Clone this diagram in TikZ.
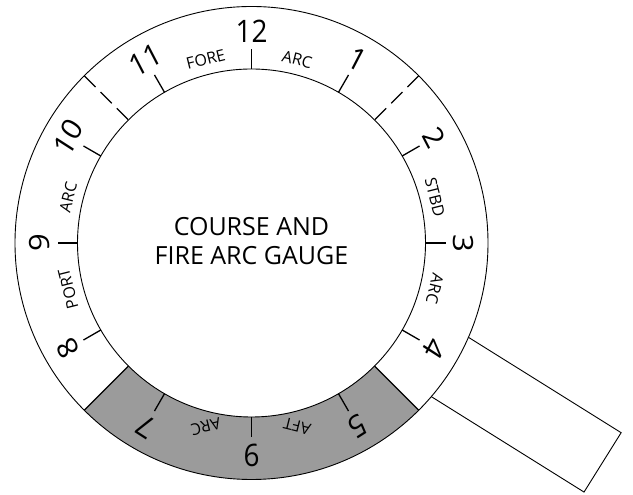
\documentclass[tikz,border=0pt]{standalone}
\usepackage{fontspec}
\setmainfont{Open Sans}
\definecolor{sectorgray}{RGB}{155,155,155}
\begin{document}
\begin{tikzpicture}[x=1pt,y=1pt,
  ring/.style={line width=0.9pt},
  tickline/.style={line width=1.3pt},
  dashline/.style={line width=1.1pt, dash pattern=on 16pt off 7pt},
  num/.style={font=\fontsize{31}{31}\selectfont, inner sep=0pt, xscale=0.9},
  lab/.style={font=\fontsize{16}{16}\selectfont, inner sep=0pt},
  title/.style={font=\fontsize{25}{29}\selectfont, align=center, inner sep=0pt}
]
\useasboundingbox (0,0) rectangle (633,495);
\begin{scope}[shift={(251.5,252)}]
  % handle
  \begin{scope}[rotate=-32]
    \draw[ring, fill=white] (150,-35) rectangle (414,35);
  \end{scope}
  % dial
  \coordinate (O) at (0,0);
  \fill[white] (O) circle[radius=236.5];
  \fill[sectorgray] (225:174) arc[start angle=225, end angle=315, radius=174]
    -- (315:236.5) arc[start angle=315, end angle=225, radius=236.5] -- cycle;
  \draw[ring] (O) circle[radius=236.5];
  \draw[ring] (O) circle[radius=174];
  % sector boundaries
  \draw[ring, line width=1.1pt] (225:174) -- (225:236.5);
  \draw[ring, line width=1.1pt] (315:174) -- (315:236.5);
  % dashed division lines
  \draw[dashline] (135:236.5) -- (135:174);
  \draw[dashline] (45:236.5) -- (45:174);
  % hour ticks
  \foreach \h in {1,...,12}
    \draw[tickline] ({90-30*\h}:174) -- ({90-30*\h}:194);
  % hour numbers
  \foreach \h in {1,2,3,4,5,7,8,9,10,11,12}
    \node[num, rotate={-30*\h}] (n\h) at ({90-30*\h}:211.5) {\h};
  \node[num] (n6) at (270:212.5) {6};
  % sector labels
  \node[lab, rotate=14]   (fore)  at (104:189) {FORE};
  \node[lab, rotate=-14]  (arca)  at (76:189)  {ARC};
  \node[lab, rotate=-76]  (stbd)  at (14:189)  {STBD};
  \node[lab, rotate=-104] (arcb)  at (-14:189) {ARC};
  \node[lab, rotate=166]  (aft)   at (-76:189) {AFT};
  \node[lab, rotate=194]  (arcc)  at (-104:189) {ARC};
  \node[lab, rotate=104]  (port)  at (194:189) {PORT};
  \node[lab, rotate=76]   (arcd)  at (166:189) {ARC};
  % title
  \node[title] (ttl) at (0,1.5) {COURSE AND\\FIRE ARC GAUGE};
\end{scope}
\end{tikzpicture}
\end{document}
